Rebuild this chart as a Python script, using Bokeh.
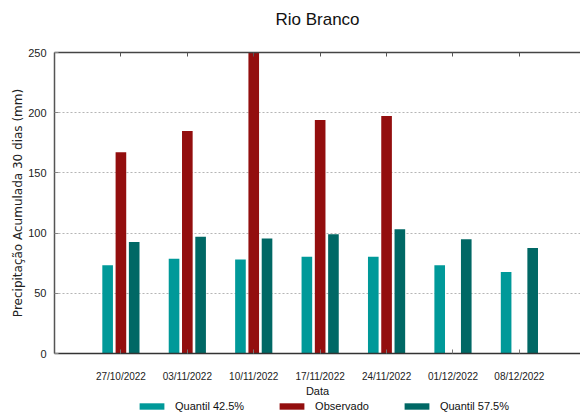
from bokeh.plotting import figure
from bokeh.layouts import column
from bokeh.models import (Range1d, FixedTicker, LinearAxis, Legend, LegendItem,
                          ColumnDataSource, Label)
from bokeh.transform import dodge
from bokeh.embed import file_html
from bokeh.resources import INLINE

# ---- data ----
title_text = "Rio Branco"
dates = ["27/10/2022", "03/11/2022", "10/11/2022", "17/11/2022",
         "24/11/2022", "01/12/2022", "08/12/2022"]
quantil_425 = [73.4, 78.6, 78.1, 80.3, 80.3, 73.4, 67.6]
observado = [167.2, 184.9, 250.0, 194.0, 197.3, float("nan"), float("nan")]
quantil_575 = [92.7, 96.9, 95.5, 99.1, 103.2, 94.9, 87.7]
series_names = ["Quantil 42.5%", "Observado", "Quantil 57.5%"]
y_ticks = [0, 50, 100, 150, 200, 250]

pos = list(range(1, len(dates) + 1))
src = ColumnDataSource(dict(x=pos, q1=quantil_425, obs=observado, q2=quantil_575))
series_cols = ["q1", "obs", "q2"]

FONT = "Liberation Sans"
TEAL = "#009999"
RED = "#930e0e"
DTEAL = "#006865"
colors = [TEAL, RED, DTEAL]
offsets = [-0.2, 0.0, 0.2]
XMAX = 7.92

# ---- title strip ----
TH = 38
pt = figure(width=580, height=TH, output_backend="svg", toolbar_location=None,
            x_range=Range1d(0, XMAX), y_range=Range1d(0, TH),
            min_border=0, min_border_left=0, min_border_right=0,
            min_border_top=0, min_border_bottom=0,
            x_axis_location=None, y_axis_location=None)
pt.outline_line_color = None
pt.background_fill_color = "white"
pt.border_fill_color = "white"
pt.xgrid.visible = False
pt.ygrid.visible = False
pt.add_layout(Label(x=XMAX / 2, y=TH - 19, text=title_text, text_align="center",
                    text_baseline="middle", text_font=FONT,
                    text_font_size="17px", text_color="#111111"))

# ---- main chart ----
p = figure(width=580, height=361, output_backend="svg", toolbar_location=None,
           x_range=pt.x_range, y_range=Range1d(0, 250),
           min_border_left=54, min_border_right=0, min_border_top=14,
           min_border_bottom=0, x_axis_location=None, y_axis_location=None)
p.outline_line_color = None
p.background_fill_color = "white"
p.border_fill_color = "white"

bw = 0.16
for col, off, c in zip(series_cols, offsets, colors):
    p.vbar(x=dodge("x", off, range=p.x_range), top=col, width=bw, source=src,
           fill_color=c, line_color=None)

overrides = {x: d for x, d in zip(pos, dates)}

# bottom axis
xb = LinearAxis(ticker=FixedTicker(ticks=pos), major_label_overrides=overrides)
xb.axis_label = "Data"
xb.axis_label_text_font = FONT
xb.axis_label_text_font_size = "11px"
xb.axis_label_text_font_style = "normal"
xb.axis_label_text_color = "#111111"
xb.axis_label_standoff = 0
xb.major_label_text_font = FONT
xb.major_label_text_font_size = "10px"
xb.major_label_text_color = "#222222"
xb.major_label_standoff = 17
xb.major_tick_in = 4
xb.major_tick_out = 0
xb.minor_tick_line_color = None
xb.axis_line_color = "#333333"
xb.axis_line_width = 1.5
xb.major_tick_line_color = "#777777"
p.add_layout(xb, "below")

# top axis (mirror ticks, no labels)
xt = LinearAxis(ticker=FixedTicker(ticks=pos))
xt.major_label_text_alpha = 0
xt.major_label_text_font_size = "1px"
xt.major_label_standoff = 0
xt.major_tick_in = 4
xt.major_tick_out = 0
xt.minor_tick_line_color = None
xt.axis_line_color = "#444444"
xt.axis_line_width = 1.5
xt.major_tick_line_color = "#555555"
p.add_layout(xt, "above")

# left axis
yl = LinearAxis(ticker=FixedTicker(ticks=y_ticks))
yl.axis_label = "Precipitação Acumulada 30 dias (mm)"
yl.axis_label_text_font = "DejaVu Sans"
yl.axis_label_text_font_size = "12px"
yl.axis_label_text_font_style = "normal"
yl.axis_label_text_color = "#222222"
yl.axis_label_standoff = 0
yl.major_label_text_font = FONT
yl.major_label_text_font_size = "11px"
yl.major_label_text_color = "#222222"
yl.major_label_standoff = 8
yl.major_tick_in = 4
yl.major_tick_out = 0
yl.minor_tick_line_color = None
yl.axis_line_color = "#555555"
yl.axis_line_width = 1.5
yl.major_tick_line_color = "#888888"
p.add_layout(yl, "left")

p.xgrid.visible = False
p.ygrid.ticker = FixedTicker(ticks=y_ticks[1:-1])
p.ygrid.grid_line_color = "#b5b5b5"
p.ygrid.grid_line_dash = "2 2"
p.ygrid.grid_line_width = 1

# ---- legend strip below the chart; its bars lie below this strip's view ----
pl = figure(width=580, height=15, output_backend="svg", toolbar_location=None,
            x_range=pt.x_range, y_range=Range1d(1000, 1001),
            min_border=0, min_border_left=0, min_border_right=0,
            min_border_top=0, min_border_bottom=0,
            x_axis_location=None, y_axis_location=None)
pl.outline_line_color = None
pl.background_fill_color = "white"
pl.border_fill_color = "white"
pl.xgrid.visible = False
pl.ygrid.visible = False
proxies = [pl.vbar(x="x", top=col, width=bw, source=src, fill_color=c,
                   line_color=None)
           for col, c in zip(series_cols, colors)]
legend = Legend(items=[LegendItem(label=n, renderers=[r])
                       for n, r in zip(series_names, proxies)],
                orientation="horizontal", location=(82, 2))
legend.glyph_width = 31
legend.glyph_height = 8
legend.label_text_font = FONT
legend.label_text_font_size = "11px"
legend.label_text_color = "#111111"
legend.label_standoff = 8
legend.spacing = 32
legend.padding = 0
legend.margin = 0
legend.border_line_color = None
legend.background_fill_alpha = 0
legend.label_height = 10
pl.add_layout(legend, "center")

open("out.html", "w").write(file_html(column(pt, p, pl, spacing=0), INLINE))
